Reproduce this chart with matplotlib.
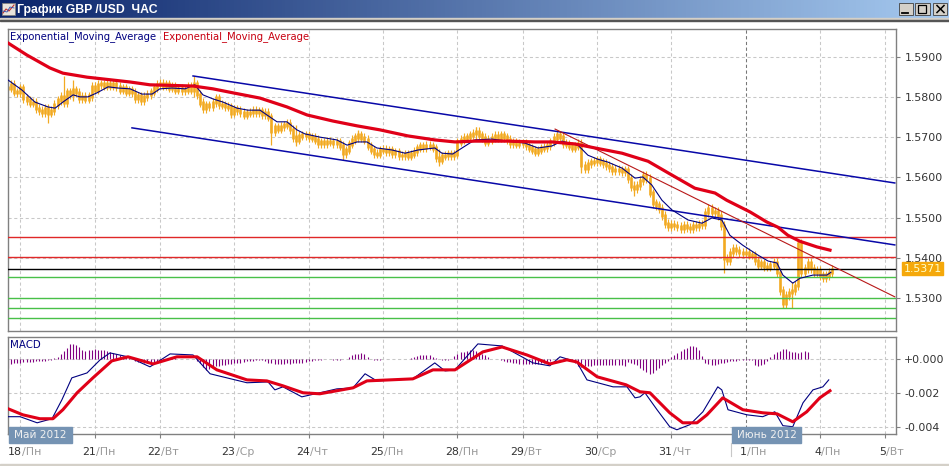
import numpy as np
import matplotlib
matplotlib.use('Agg')
import matplotlib.pyplot as plt
from matplotlib.patches import Rectangle

W, H = 949, 466

# hourly closes in pips (5371 = 1.5371)
close_pips = [
    5822, 5830, 5812, 5810, 5822, 5797, 5792, 5785, 5787, 5772, 5767, 5762, 5772, 5760, 5767, 5782,
    5792, 5800, 5787, 5812, 5805, 5817, 5810, 5797, 5800, 5795, 5802, 5825, 5817, 5830, 5832, 5827,
    5834, 5827, 5832, 5825, 5817, 5822, 5812, 5817, 5810, 5797, 5802, 5792, 5800, 5805, 5812, 5822,
    5830, 5834, 5827, 5832, 5822, 5825, 5817, 5820, 5815, 5817, 5825, 5817,
    5832, 5805, 5785, 5772, 5780, 5777, 5787, 5797, 5782, 5780, 5777, 5775, 5760, 5770, 5767, 5762,
    5755, 5760, 5762, 5767, 5762, 5765, 5757, 5762, 5750, 5713, 5725, 5720, 5727, 5730, 5733, 5718,
    5700, 5693, 5703, 5705, 5705, 5700, 5698, 5693, 5685,
    5688, 5685, 5690, 5688, 5685, 5688, 5678, 5660, 5668, 5683, 5693, 5700, 5705, 5698, 5693, 5678,
    5668, 5660, 5658, 5668, 5670, 5665, 5668, 5660, 5663, 5655, 5655, 5658, 5653, 5658, 5665, 5673,
    5678, 5675, 5680, 5678, 5673, 5650, 5643, 5653, 5655, 5658, 5655, 5658, 5688,
    5695, 5698, 5700, 5705, 5708, 5713, 5705, 5698, 5688, 5693, 5698, 5703, 5698, 5705, 5700, 5695,
    5685, 5688, 5683, 5685, 5685, 5680, 5673, 5668, 5663, 5668, 5673, 5675, 5680, 5688, 5698, 5705,
    5700, 5685, 5683, 5678, 5673, 5678, 5685, 5630, 5623, 5635, 5638, 5640, 5643,
    5638, 5635, 5630, 5625, 5618, 5620, 5618, 5615, 5618, 5598, 5578, 5573, 5580, 5593, 5605, 5598,
    5561, 5536, 5531, 5523, 5506, 5486, 5478, 5483, 5481, 5478, 5473, 5481, 5476, 5473, 5481, 5478,
    5483, 5483, 5513, 5523, 5513, 5516, 5506, 5481, 5399, 5394, 5414, 5424, 5419, 5414, 5411, 5414,
    5407, 5407, 5394, 5382, 5387, 5379, 5377, 5382, 5389, 5364, 5319, 5287, 5307, 5314, 5319, 5332,
    5436, 5364, 5374, 5389, 5374, 5364, 5369, 5357, 5352, 5357, 5364, 5371,
]

# long wicks only, the rest get a short default wick
wick_bars = [13, 18, 21, 60, 72, 85, 93, 108, 113, 139, 151, 185, 202, 205, 231, 250, 253, 255]
wick_lows = [5735, 5780, 5790, 5800, 5747, 5680, 5678, 5643, 5690, 5628, 5690, 5611, 5553, 5590, 5362, 5275, 5275, 5350]
wick_highs = [5780, 5852, 5842, 5852, 5775, 5730, 5730, 5690, 5718, 5670, 5725, 5650, 5590, 5613, 5420, 5320, 5340, 5444]

ema_fast_hours = [
    0, 4.5, 8.7, 12.9, 15.2, 17.7, 21, 23.2, 25.8, 28.7, 32.3, 35.5, 39.4, 43.2, 46.5, 49, 52.9, 57.1, 60.3,
    62.9, 66.1, 69.4, 73.9, 77.4, 81.3, 84.5, 86.8, 90, 93.2, 95.8, 100.6, 106.1, 109.4, 112.6, 115.8, 119,
    123.9, 128.1, 132.3, 137.7, 140, 143.5, 146.5, 150.6, 156.1, 161.3, 166.8, 171, 175.5, 178.7, 183.9, 187.1,
    190.3, 193.5, 198.1, 202.3, 204.8, 207.7, 211, 214.2, 219.4, 223.9, 227.1, 230.3, 232.9, 237.1, 241.9,
    245.2, 248.1, 250, 253.2, 255.5, 259.7, 264.2, 265.5,
]
ema_fast_pips = [
    5842, 5817, 5787, 5775, 5772, 5787, 5805, 5800, 5800, 5810, 5825, 5822, 5820, 5807, 5807, 5820, 5822, 5820, 5830,
    5805, 5795, 5787, 5772, 5767, 5767, 5750, 5738, 5738, 5718, 5708, 5700, 5693, 5680, 5688, 5688, 5673,
    5668, 5660, 5668, 5673, 5660, 5658, 5673, 5693, 5695, 5690, 5685, 5673, 5678, 5690, 5680, 5655,
    5645, 5638, 5623, 5598, 5601, 5581, 5543, 5519, 5494, 5486, 5499, 5494, 5456, 5431, 5407,
    5392, 5387, 5357, 5337, 5349, 5357, 5357, 5364,
]

ema_slow_hours = [
    0, 6.1, 13.5, 17.7, 25.5, 39.4, 45.8, 59.7, 66.1, 72.6, 81.3, 90, 96.5, 104.8, 112.6, 120, 129, 137.7, 144.2,
    150.6, 161.3, 170, 175.5, 182.9, 189.4, 198.1, 206.5, 213, 221.6, 228.1, 231.9, 239.4, 244.8, 248.4, 251.6,
    255.5, 261, 265.2,
]
ema_slow_pips = [
    5934, 5904, 5872, 5859, 5849, 5837, 5830, 5827, 5820, 5810, 5797, 5775, 5755, 5740, 5728, 5718, 5703, 5693, 5688,
    5690, 5690, 5688, 5688, 5683, 5673, 5660, 5640, 5611, 5573, 5561, 5543, 5514, 5489, 5476, 5456,
    5441, 5427, 5419,
]

channel_upper_hours = [59.7, 286.1]
channel_upper_prices = [1.5852, 1.5586]
channel_lower_hours = [40, 286.1]
channel_lower_prices = [1.5723, 1.5432]
trend_red_hours = [176.5, 286.1]
trend_red_prices = [1.5720, 1.5303]

red_levels = [1.5451, 1.5402]
black_level = 1.5372
green_levels = [1.5351, 1.5300, 1.5274, 1.5251]

# MACD in units of 0.00001
macd_fast_hours = [
    0, 3.9, 9.4, 14.2, 17.4, 20.6, 25.5, 29.7, 32.9, 38.7, 45.8, 52.3, 59.7, 65.2, 70.6, 77.1, 83.9, 86.1, 88.7,
    94.8, 100.6, 106.1, 111.3, 115.2, 119, 130.6, 137.7, 141, 144.2, 151.6, 159.4, 169.4, 174.8, 178.1, 183.5,
    186.8, 195.2, 199.7, 202.3, 203.9, 205.5, 209.4, 213.5, 215.8, 220, 224.2, 229, 230.3, 232.3, 238.4, 243.5,
    247.4, 250, 253.2, 256.5, 259.7, 262.9, 264.8,
]
macd_fast = [
    -339, -339, -375, -351, -239, -110, -81, -4, 37, 14, -45, 31, 25, -86, -110, -139, -134, -181, -163,
    -222, -198, -175, -169, -86, -128, -116, -22, -69, -63, 90, 78, -22, -39, 14, -16,
    -122, -163, -163, -228, -222, -198, -298, -398, -416, -386, -310, -163, -181, -298, -328, -339,
    -310, -392, -398, -257, -181, -163, -122,
]
macd_slow_hours = [
    0, 4.8, 10.3, 14.5, 17.7, 22.3, 27.4, 33.5, 38.7, 46.8, 54.5, 61, 67.4, 77.1, 83.5, 88.7, 95.2, 100.6, 111.3,
    115.8, 130.6, 137.1, 144.2, 153.2, 159.4, 167.4, 174.8, 180.3, 183.5, 190.1, 199.4, 203.9, 207.1, 213.5, 217.7,
    222.3, 225.5, 230.6, 237.1, 243.5, 248.1, 253.2, 257.7, 261.9, 265.2,
]
macd_slow = [
    -292, -328, -351, -351, -298, -198, -110, -10, 14, -28, 14, 14, -63, -122, -128, -157, -198, -204, -169,
    -128, -116, -63, -63, 43, 72, 25, -28, -4, -16, -104, -151, -192, -198, -316, -375,
    -375, -328, -228, -298, -316, -322, -369, -310, -228, -186,
]
macd_hist = [
    -50, -30, -25, -20, -20, -15, -15, -15, -15, -12, -12, -10, -8, -5, -3, 5, 15, 30, 50, 65, 88, 92, 85, 70,
    55, 50, 52, 55, 58, 55, 52, 55, 50, 42, 36, 30, 24, 16, 10, 8, 0, -8, -15, -18, -22, -22, -20, -15, -12, -10,
    -4, 2, 5, 6, 5, 4, 3, 3, 2, 1, 0, -10, -25, -45, -63, -55, -48, -42, -38, -35, -32, -28, -26, -25, -22, -20,
    -16, -12, -10, -8, -6, -5, -5, -12, -20, -25, -26, -27, -28, -26, -25, -26, -25, -25, -22, -20, -16, -12, -8, -5,
    -2, -2, -1, 0, 0, -2, -3, -2, 0, 4, 10, 22, 30, 33, 35, 28, 15, 4, -3, -5, -2, 0, 0, 1, 2, 3, 3, 3, 3, 3,
    5, 10, 16, 22, 25, 26, 22, 15, 8, 2, -2, -3, -3, 2, 18, 28, 40, 45, 50, 55, 55, 48, 38, 30, 22, 12, 3, 2, 1, -4,
    -10, -14, -18, -22, -25, -26, -28, -29, -30, -30, -28, -26, -24, -22, -20, -10, 0, 5, 2, -2, -6, -8, -10, -20, -40, -44,
    -42, -40, -38, -36, -35, -35, -36, -36, -36, -35, -35, -35, -35, -40, -15, -20, -28, -35, -50, -65, -78, -88, -80, -65,
    -50, -35, -20, -8, 10, 22, 35, 48, 58, 68, 78, 78, 70, 55, 20, -20, -30, -35, -33, -30, -25, -20, -15, -12, -10, -8, -6,
    -5, -5, -3, -2, -35, -38, -35, -30, -10, 10, 30, 42, 50, 60, 62, 50, 45, 42, 38, 45, 48, 45,
]

day_ticks = [4, 28, 49, 73, 97, 121, 145, 166, 190, 214, 238, 262, 283]
day_numbers = ['18', '21', '22', '23', '24', '25', '28', '29', '30', '31', '1', '4', '5']
day_names = ['Пн', 'Пн', 'Вт', 'Ср', 'Чт', 'Пн', 'Пн', 'Вт', 'Ср', 'Чт', 'Пн', 'Пн', 'Вт']
june_tick = 238

price_ticks = [1.53, 1.54, 1.55, 1.56, 1.57, 1.58, 1.59]
macd_ticks = [0.0, -0.002, -0.004]
macd_tick_labels = ['+0.000', '-0.002', '-0.004']

ORANGE = '#f2aa22'
NAVY = '#000080'
RED = '#e00018'
GRID = '#c8c8c8'
SPINE = '#808080'
TEXT = '#333333'


def px_axes(left, top, right, bottom):
    return fig.add_axes([left / W, 1 - bottom / H, (right - left) / W, (bottom - top) / H])


def style_axes(ax):
    ax.set_xlim(0, 286.5)
    ax.set_axisbelow(True)
    ax.grid(True, color=GRID, ls=(0, (3, 2.5)), lw=0.75)
    for s in ax.spines.values():
        s.set_color(SPINE)
        s.set_linewidth(1.0)
    ax.axvline(june_tick, color='#777777', ls=(0, (3, 2.5)), lw=0.75, zorder=1)
    ax.yaxis.tick_right()
    ax.set_xticks(day_ticks)
    ax.tick_params(axis='y', length=3, width=0.8, color=SPINE, labelcolor=TEXT, labelsize=7.9, pad=3)


fig = plt.figure(figsize=(W / 100, H / 100), dpi=100, facecolor='white')

# price panel
ax = px_axes(8, 29.3, 896, 331)
style_axes(ax)
ax.set_ylim(1.5218, 1.5968)
ax.set_yticks(price_ticks)
ax.set_yticklabels([f'{p:.4f}' for p in price_ticks])
ax.tick_params(axis='x', length=0, labelbottom=False)

bars = np.arange(len(close_pips))
closes = np.array(close_pips) / 10000 + 1
opens = np.r_[closes[0], closes[:-1]]
body_lo = np.minimum(opens, closes)
body_hi = np.maximum(opens, closes)
ax.vlines(bars, body_lo - 0.0011, body_hi + 0.0011, color=ORANGE, lw=0.8, zorder=2)
ax.vlines(bars, body_lo - 0.0004, body_hi + 0.0004, color=ORANGE, lw=1.9, zorder=2)
ax.vlines(wick_bars, np.array(wick_lows) / 10000 + 1, np.array(wick_highs) / 10000 + 1, color=ORANGE, lw=0.9, zorder=2)

for lvl in red_levels:
    ax.axhline(lvl, color='#e02828', lw=1.0, zorder=3)
ax.axhline(black_level, color='black', lw=1.0, zorder=3)
for lvl in green_levels:
    ax.axhline(lvl, color='#48c048', lw=1.0, zorder=3)

ax.plot(channel_upper_hours, channel_upper_prices, color='#0808a8', lw=1.1, zorder=4)
ax.plot(channel_lower_hours, channel_lower_prices, color='#0808a8', lw=1.1, zorder=4)
ax.plot(trend_red_hours, trend_red_prices, color='#b81818', lw=0.8, zorder=4)
ax.plot(ema_fast_hours, np.array(ema_fast_pips) / 10000 + 1, color=NAVY, lw=0.8, zorder=5)
ax.plot(ema_slow_hours, np.array(ema_slow_pips) / 10000 + 1, color=RED, lw=2.3, zorder=6)

# MACD panel
ax2 = px_axes(8, 337.3, 896, 434)
style_axes(ax2)
ax2.set_ylim(-0.00441, 0.00129)
ax2.set_yticks(macd_ticks)
ax2.set_yticklabels(macd_tick_labels)
ax2.tick_params(axis='x', length=3, width=0.8, color=SPINE, labelbottom=False)

ax2.vlines(np.arange(len(macd_hist)), 0, np.array(macd_hist) / 100000, color='#800080', lw=0.8, zorder=2)
ax2.plot(macd_fast_hours, np.array(macd_fast) / 100000, color=NAVY, lw=0.8, zorder=3)
ax2.plot(macd_slow_hours, np.array(macd_slow) / 100000, color=RED, lw=2.2, zorder=4)

tr = ax2.get_xaxis_transform()
for t, num, name in zip(day_ticks, day_numbers, day_names):
    ax2.text(t + 0.4, -0.186, num, transform=tr, ha='right', va='center', fontsize=7.9, color=TEXT, clip_on=False)
    ax2.text(t + 0.4, -0.186, '/' + name, transform=tr, ha='left', va='center', fontsize=7.9, color='#999999', clip_on=False)

# window frame, labels and date badges, in pixel coordinates
ov = fig.add_axes([0, 0, 1, 1], zorder=10)
ov.patch.set_alpha(0)
ov.axis('off')
grad = np.linspace(0, 1, 256).reshape(1, -1, 1)
start = np.array([0x0a, 0x24, 0x6a]) / 255
end = np.array([0xa6, 0xca, 0xf0]) / 255
ov.imshow(start + grad * (end - start), extent=(0, W, 18, 0), aspect='auto', zorder=1)
ov.set_xlim(0, W)
ov.set_ylim(H, 0)

ov.add_patch(Rectangle((0, 18), W, 1.5, color='#d4d0c8', zorder=1))
ov.add_patch(Rectangle((0, 19.5), W, 1.5, color='#555555', zorder=1))
ov.add_patch(Rectangle((0, 464), W, 2, color='#d4d0c8', zorder=1))

# title icon
ov.add_patch(Rectangle((2, 3), 13, 12, facecolor='#e8e4dc', edgecolor='#808080', lw=0.6, zorder=2))
ov.plot([3, 6, 9, 14], [13, 9, 11, 5], color='#c03030', lw=0.8, zorder=3)
ov.plot([3, 7, 10, 14], [11, 12, 7, 8], color='#3050b0', lw=0.6, zorder=3)
ov.text(17.5, 9.5, 'График GBP /USD  ЧАС', color='white', fontsize=8.8, fontweight='bold',
        family='Liberation Sans', va='center', ha='left', zorder=3)

# window buttons
for bx in [899, 915.5, 933]:
    ov.add_patch(Rectangle((bx, 3), 14.5, 12, facecolor='#d4d0c8', edgecolor='#404040', lw=0.6, zorder=2))
ov.plot([902, 908], [12.5, 12.5], color='black', lw=1.3, zorder=3)
ov.add_patch(Rectangle((918.5, 5), 8, 7.5, facecolor='none', edgecolor='black', lw=0.9, zorder=3))
ov.plot([937, 944], [5.5, 12.5], color='black', lw=1.1, zorder=3)
ov.plot([937, 944], [12.5, 5.5], color='black', lw=1.1, zorder=3)

ov.text(10, 36.5, 'Exponential_Moving_Average', color=NAVY, fontsize=7.2, va='center', ha='left', zorder=3)
ov.text(163, 36.5, 'Exponential_Moving_Average', color='#c80010', fontsize=7.2, va='center', ha='left', zorder=3)
ov.text(10.5, 344.5, 'MACD', color=NAVY, fontsize=7.4, va='center', ha='left', zorder=3)

# current price tag
ov.add_patch(Rectangle((902, 262), 41.5, 12.5, color='#f5a80a', zorder=2))
ov.text(904, 268.6, f'{1 + close_pips[-1] / 10000:.4f}', color='#ffffc8', fontsize=7.9, va='center', ha='left', zorder=3)

# month badges
ov.add_patch(Rectangle((9, 427), 63, 16, color='#7593b3', zorder=2))
ov.text(40.5, 435.5, 'Май 2012', color='#f0f0f0', fontsize=7.6, va='center', ha='center', zorder=3)
ov.add_patch(Rectangle((732, 427), 69, 16, color='#7593b3', zorder=2))
ov.text(766.5, 435.5, 'Июнь 2012', color='#f0f0f0', fontsize=7.6, va='center', ha='center', zorder=3)
ov.plot([731.5, 731.5], [443, 456], color='#c8c8c8', lw=0.8, zorder=2)

fig.savefig('out.png', dpi=100)
